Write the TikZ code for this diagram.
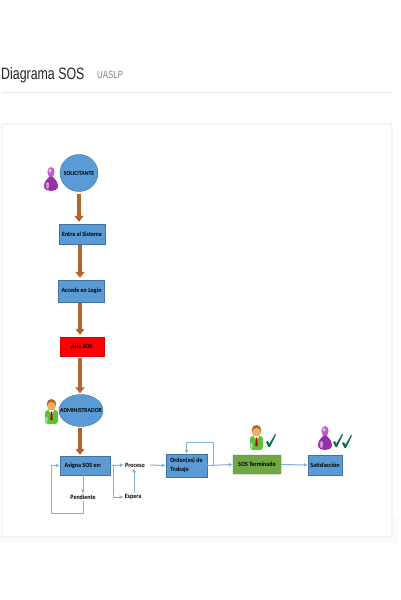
\documentclass[tikz,border=0pt]{standalone}
\usepackage{fontspec}
\setmainfont[FakeStretch=0.92]{Carlito}
\newfontfamily\headfont{Liberation Sans}
\usepackage{xcolor}
\usetikzlibrary{arrows.meta,positioning,calc,shapes.geometric}
\definecolor{boxblue}{HTML}{5B9BD5}
\definecolor{boxedge}{HTML}{41719C}
\definecolor{flowblue}{HTML}{84B0DC}
\definecolor{bigbrown}{HTML}{B5622D}
\definecolor{termgreen}{HTML}{70A845}
\definecolor{checkgreen}{HTML}{0F6B45}
\definecolor{rulegray}{HTML}{E6E6E6}
\definecolor{purpura}{HTML}{A935BC}
\definecolor{camisa}{HTML}{5CC238}
\definecolor{cabello}{HTML}{A8682A}
\definecolor{piel}{HTML}{F2AE5C}
\tikzset{
  block/.style={
    draw=boxedge,
    fill=boxblue,
    align=center,
    font=\fontsize{6.5}{8}\selectfont\bfseries,
    text=black,
    minimum height=20pt,
    minimum width=46pt,
    inner sep=0pt
  },
  block2/.style={block, draw=termgreen!75!black, fill=termgreen, rounded corners=1pt},
  block3/.style={block, draw=red!85!black, fill=red},
  oval/.style={ellipse, draw=boxedge, fill=boxblue, font=\fontsize{6.2}{8}\selectfont\bfseries,
    text=black, inner sep=-8pt},
  plain/.style={font=\fontsize{6.5}{8}\selectfont\bfseries, text=black, inner sep=1pt},
  bigline/.style={-{Triangle[length=6pt,width=9pt]}, line width=3.6pt, draw=bigbrown},
  line/.style={-{Latex[length=4pt,width=4pt]}, line width=1pt, draw=flowblue},
  pics/usuario/.style={code={
    \fill[purpura!88!black] (0,7) .. controls (-1.5,11) and (-7,13) .. (-7,19)
      .. controls (-7,23) and (-3,24) .. (0,24)
      .. controls (3,24) and (7,23) .. (7,19)
      .. controls (7,13) and (1.5,11) .. (0,7) -- cycle;
    \fill[purpura!80!white] (0,5) ellipse (3.6 and 5);
    \fill[purpura!35!white] (-1,3.5) ellipse (1.5 and 2);
    \fill[purpura!55!white] (-3.5,18.5) ellipse (1.8 and 3.5);
  }},
  pics/gestor/.style={code={
    \fill[camisa, rounded corners=3pt] (-6.5,11) rectangle (6.5,25);
    \fill[camisa!50!white] (-5,20.5) ellipse (1.2 and 3);
    \fill[cabello] (0,5) ellipse (4.7 and 5);
    \fill[piel] (0,7.5) ellipse (4.3 and 4.6);
    \fill[white] (-2.8,11) -- (2.8,11) -- (0,16) -- cycle;
    \fill[red!75!black] (-0.8,12.5) -- (0.8,12.5) -- (1.1,21) -- (-1.1,21) -- cycle;
  }},
  pics/visto/.style={code={
    \fill[checkgreen] (0,8) -- (2,7) -- (3.2,10) -- (9,0) -- (10,0.6) -- (4,13) -- (2.5,13) -- cycle;
  }}
}
\begin{document}
\begin{tikzpicture}[x=1pt,y=-1pt,node distance=18pt and 18pt]
\useasboundingbox (0,0) rectangle (400,600);
\fill[white] (0,0) rectangle (400,600);
% encabezado
\node[anchor=base west, inner sep=0pt, text=black!85, font=\headfont\fontsize{16.5}{18}\selectfont] (titulo) at (1,79) {\scalebox{0.75}[1]{Diagrama SOS}};
\node[anchor=base west, inner sep=0pt, text=black!50, font=\headfont\fontsize{10.5}{12}\selectfont] (subtitulo) at (97,78) {\scalebox{0.75}[1]{UASLP}};
\draw[rulegray, line width=0.7pt] (2,92) -- (392,92);
\fill[black!2] (0,537) rectangle (398,543);
\fill[black!2] (392,517) rectangle (398,537);
\draw[rulegray, line width=0.8pt, fill=white, rounded corners=1pt] (2,124) rectangle (392,537);

% columna principal
\node[oval, minimum width=38pt, minimum height=37pt] (solicitante) at (79,173) {SOLICITANTE};
\node[block] (entra) at (82,234) {Entra al Sistema};
\node[block, minimum height=22pt] (login) at (81.5,291) {Accede en Login};
\node[block3, minimum width=44pt, minimum height=19pt] (alta) at (82,346.5) {Alta SOS};
\node[oval, minimum width=44pt, minimum height=32pt] (admin) at (81,410.5) {ADMINISTRADOR};
\node[block, minimum width=50pt, minimum height=19pt] (asigna) at (85,465.5) {Asigna SOS en:\hspace{4pt}};

% fila inferior
\node[plain] (proceso) at (135,465) {Proceso};
\node[plain] (espera) at (133,497) {Espera};
\node[plain] (pendiente) at (83,497) {Pendiente};
\node[block, minimum width=41pt, minimum height=23pt, align=left] (orden) at (186.5,465.5) {Orden(es) de\\[1pt]Trabajo};
\node[block2, minimum width=48pt, minimum height=19pt] (terminado) at (257,464.5) {SOS Terminado};
\node[block, minimum width=34pt, minimum height=20pt] (satisfaccion) at (325,465) {Satisfacción};

\coordinate (rama) at (113,465.5);
\coordinate (lazo) at (213,465.5);
\coordinate (bajo) at ($(pendiente.south)+(0,13)$);

\draw[bigline] ([yshift=-2pt]solicitante.south) -- ([yshift=2pt]solicitante.south |- entra.north);
\draw[bigline] ([xshift=-2pt,yshift=-1pt]entra.south) -- ([xshift=-2pt,yshift=2pt]entra.south |- login.north);
\draw[bigline] ([xshift=-1.5pt,yshift=-1pt]login.south) -- ([xshift=-1.5pt,yshift=2pt]login.south |- alta.north);
\draw[bigline] ([xshift=-2pt,yshift=-2pt]alta.south) -- ([xshift=-2pt,yshift=1pt]alta.south |- admin.north);
\draw[bigline] ([xshift=-1pt,yshift=-1pt]admin.south) -- ([xshift=-1pt,yshift=1pt]admin.south |- asigna.north);

\draw[line] (asigna.east) -- (proceso.west);
\draw[line] (rama) |- (espera.west);
\draw[line] (asigna.south -| pendiente.north) -- (pendiente.north);
\draw[line] (pendiente.south) -- (bajo) -- ++(-32,0) |- (asigna.west);
\draw[line] ([xshift=1pt]espera.north) -- ([xshift=-1pt]proceso.south);
\draw[line] ([xshift=4pt]proceso.east) -- (orden.west);
\draw[line] (orden.east |- lazo) -- (terminado.west);
\draw[line] (lazo) -- ++(0,-23.5) -| (orden.north);
\draw[line] (terminado.east) -- (satisfaccion.west);

% iconos
\pic at (51,167) {usuario};
\pic at (51.5,399) {gestor};
\pic at (256.5,425) {gestor};
\pic at (325,426) {usuario};
\pic at (266,434) {visto};
\pic at (333,434) {visto};
\pic at (342,435) {visto};
\end{tikzpicture}
\end{document}
